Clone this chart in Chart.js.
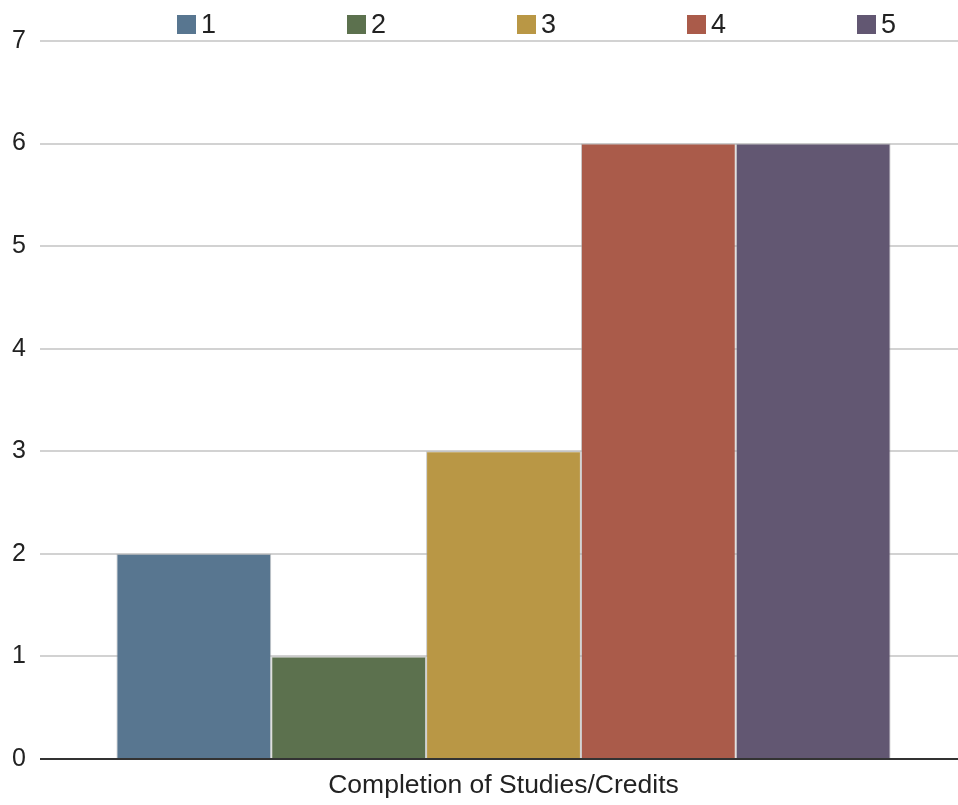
<!DOCTYPE html>
<html>
<head>
<meta charset="utf-8">
<script src="https://cdn.jsdelivr.net/npm/chart.js@4/dist/chart.umd.min.js"></script>
<style>
  html, body { margin: 0; padding: 0; background: #fff; }
  #wrap { position: relative; width: 958px; height: 805px; }
  #legend { position: absolute; left: 177px; top: 0; height: 49px; display: flex; align-items: center; font-family: "Liberation Sans", Arial, sans-serif; font-size: 27px; color: #222; line-height: 1; }
  .item { display: flex; align-items: center; width: 170px; }
  .box { width: 19px; height: 19px; margin-right: 5px; box-sizing: border-box; }
</style>
</head>
<body>
<div id="wrap">
  <canvas id="c" width="958" height="805"></canvas>
  <div id="legend"></div>
</div>
<script>
const categories = ['Completion of Studies/Credits'];
const seriesNames = ['1', '2', '3', '4', '5'];
const seriesValues = [[2], [1], [3], [6], [6]];
const seriesColors = ['#587690', '#5C714E', '#B99745', '#AA5B4A', '#625772'];
const yTicks = [0, 1, 2, 3, 4, 5, 6, 7];

const FONT = '"Liberation Sans", Arial, sans-serif';

const chart = new Chart(document.getElementById('c'), {
  type: 'bar',
  data: {
    labels: categories,
    datasets: seriesNames.map((n, i) => ({
      label: n,
      data: seriesValues[i],
      backgroundColor: seriesColors[i],
      borderColor: 'rgba(170,170,170,0.6)',
      borderWidth: 1,
      categoryPercentage: 0.8517,
      barPercentage: 1
    }))
  },
  options: {
    responsive: false,
    animation: false,
    devicePixelRatio: 1,
    layout: { padding: { top: 41, left: 0, right: 0, bottom: 0 } },
    plugins: { legend: { display: false }, tooltip: { enabled: false } },
    scales: {
      x: {
        grid: { display: false, drawTicks: false },
        border: { display: false },
        ticks: { font: { family: FONT, size: 26.5 }, color: '#222', padding: 11 },
        afterFit: s => { s.height = 46; }
      },
      y: {
        min: yTicks[0],
        max: yTicks[yTicks.length - 1],
        afterBuildTicks: s => { s.ticks = yTicks.map(v => ({ value: v })); },
        border: { display: false },
        grid: {
          color: ctx => ctx.tick && ctx.tick.value === 0 ? '#333' : '#d2d2d2',
          lineWidth: 2,
          drawTicks: true,
          tickLength: 9
        },
        ticks: { font: { family: FONT, size: 25 }, color: '#222', padding: 14 },
        afterFit: s => { s.width = 49; }
      }
    }
  }
});

// HTML legend built from the chart's own legend items
const legendEl = document.getElementById('legend');
Chart.defaults.plugins.legend.labels.generateLabels(chart).forEach(item => {
  const d = document.createElement('div');
  d.className = 'item';
  const b = document.createElement('span');
  b.className = 'box';
  b.style.background = item.fillStyle;
  const t = document.createElement('span');
  t.textContent = item.text;
  d.appendChild(b); d.appendChild(t);
  legendEl.appendChild(d);
});
</script>
</body>
</html>
